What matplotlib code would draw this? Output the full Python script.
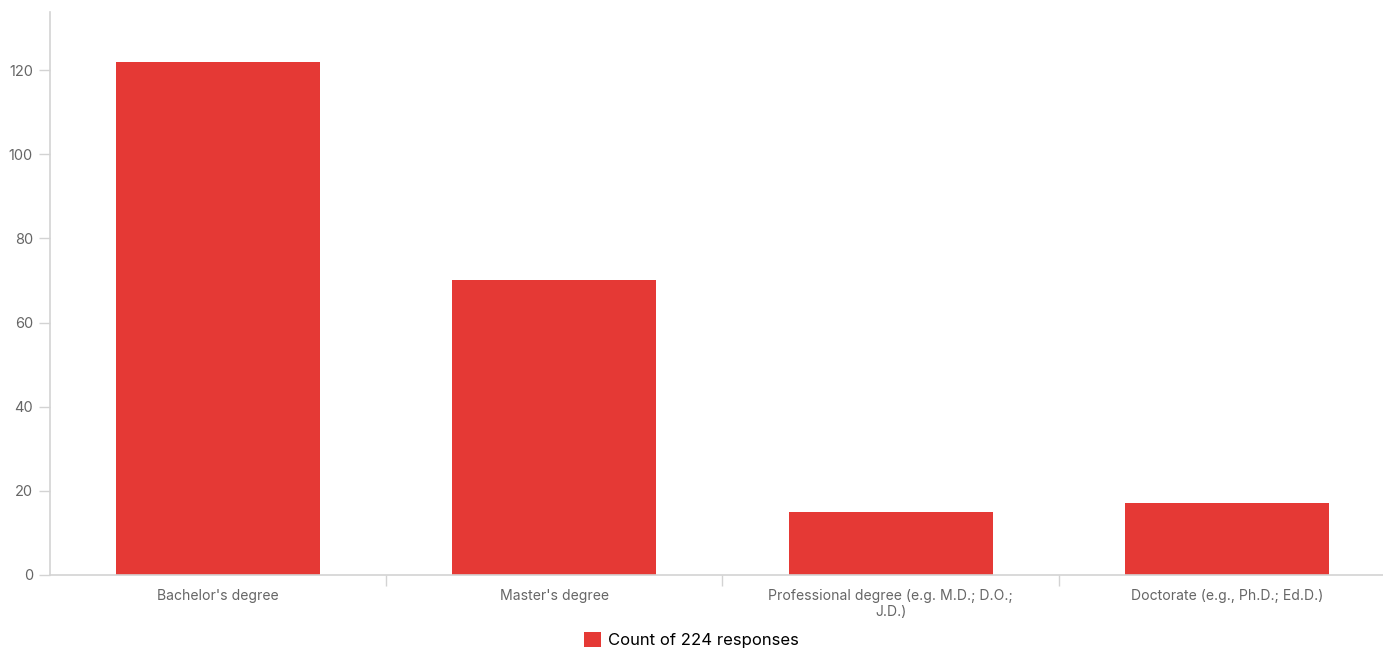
import numpy as np
import matplotlib.pyplot as plt
from matplotlib.ticker import FixedLocator

categories = ["Bachelor's degree", "Master's degree",
              "Professional degree (e.g. M.D.; D.O.;\nJ.D.)",
              "Doctorate (e.g., Ph.D.; Ed.D.)"]
counts = [122, 70, 15, 17]
y_ticks = [0, 20, 40, 60, 80, 100, 120]
legend_label = "Count of 224 responses"

plt.rcParams['font.family'] = ['Inter', 'DejaVu Sans']

W, H = 1383, 650
fig = plt.figure(figsize=(W / 100, H / 100), dpi=100)
ax = fig.add_axes([49.5 / W, 75 / H, 1346 / W, 563 / H])

red = '#e53935'
grey = '#d3d3d3'
x = np.arange(len(categories))
ax.bar(x, counts, width=0.605, color=red, label=legend_label)

ax.set_xlim(-0.5, len(categories) - 0.5)
ax.set_ylim(0, 133.8)

for s in ['top', 'right']:
    ax.spines[s].set_visible(False)
ax.spines['left'].set_color(grey)
ax.spines['bottom'].set_color(grey)
ax.spines['left'].set_linewidth(1.2)
ax.spines['bottom'].set_linewidth(1.2)

ax.set_yticks(y_ticks)
ax.tick_params(axis='y', colors=grey, labelcolor='#666666', labelsize=10.5,
               length=8, width=1, pad=4)

# category labels centered, tick marks at category boundaries
ax.set_xticks(x)
ax.set_xticklabels(categories, color='#666666', fontsize=10.1, linespacing=1.15)
ax.tick_params(axis='x', which='major', length=0, pad=10)
ax.xaxis.set_minor_locator(FixedLocator(x[:-1] + 0.5))
ax.tick_params(axis='x', which='minor', length=8, width=1, color=grey)

fig.legend(loc='center', bbox_to_anchor=(0.5, 10 / H), frameon=False,
           fontsize=12, handlelength=1.0, handleheight=1.0, handletextpad=0.4,
           borderaxespad=0)

fig.savefig('out.png', dpi=100)
